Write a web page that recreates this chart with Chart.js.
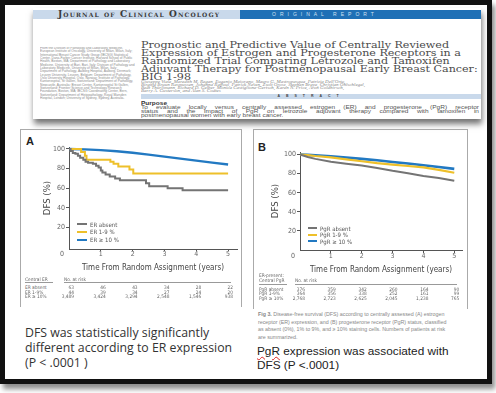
<!DOCTYPE html>
<html><head><meta charset="utf-8">
<script src="https://cdn.jsdelivr.net/npm/chart.js@4.4.0/dist/chart.umd.min.js"></script>
<style>
html,body{margin:0;padding:0;background:#fff}
body{width:496px;height:393px;position:relative;overflow:hidden;font-family:'Liberation Sans',Arial,sans-serif}
.a{position:absolute;white-space:nowrap}
#frame{left:0;top:0;width:482px;height:374px;border:5px solid #111;box-shadow:3px 5px 5px rgba(0,0,0,.45)}
#paper{left:33px;top:8px;width:448px;height:111px;background:#fff;box-shadow:1px 5px 6px rgba(0,0,0,.55);overflow:hidden}
#jbar{left:0;top:2px;width:207px;height:9px;background:#c9d9eb;font-family:'DejaVu Serif',serif;font-weight:bold;font-variant:small-caps;font-size:9px;line-height:9px;color:#3a3a3a;letter-spacing:1.1px;text-indent:25px}
#obar{left:207px;top:2px;width:241px;height:9px;background:#1f70b6;font-size:5px;line-height:9px;color:#cfe0f2;letter-spacing:4px;text-indent:32px}
#lcol{left:7px;top:39px;width:95px;height:72px;white-space:normal;font-size:3.3px;line-height:3.35px;color:#8a8a8a;overflow:hidden}
#ttl{left:108px;top:33px;font-family:'DejaVu Serif',serif;font-size:9.2px;line-height:8px;color:#4a4a4a;transform:scaleX(1.21);transform-origin:0 0}
#auth{left:108px;top:72px;font-family:'Liberation Serif',serif;font-style:italic;font-size:4.4px;line-height:3.1px;color:#888;transform:scaleX(1.14);transform-origin:0 0}
#abar{left:108px;top:86px;width:340px;height:5px;background:#c9d9eb;font-size:3.5px;line-height:5px;text-align:center;font-weight:bold;letter-spacing:6px;color:#444}
#purp{left:108px;top:92.5px;width:260px;font-size:5px;line-height:4.3px;color:#555;transform:scaleX(1.3);transform-origin:0 0}
#purp div{white-space:nowrap}
#purp .j{text-align:justify;text-align-last:justify}
.panel{border:1px solid #aaa;border-bottom:none}
.lbl{font-weight:bold;font-size:11px;color:#222}
.leg{font-family:'Liberation Sans Narrow','DejaVu Sans Condensed','Liberation Sans',sans-serif;font-size:6px;line-height:7px;color:#555}
.sw{position:absolute;height:2px}
.tb{font-family:'Liberation Sans Narrow','DejaVu Sans Condensed','Liberation Sans',sans-serif;font-size:4.8px;line-height:5px;color:#666}
.rv{position:absolute;text-align:right;width:30px;font-family:'Liberation Sans Narrow','DejaVu Sans Condensed','Liberation Sans',sans-serif;font-size:4.8px;line-height:5px;color:#666}
.hl{position:absolute;height:0;border-top:1px solid #999}
#capt{left:258px;top:311px;font-size:5.3px;line-height:7.7px;color:#888}
#ltxt{left:25px;top:325px;font-family:'Open Sans','Noto Sans',sans-serif;font-size:12.3px;line-height:15px;color:#333}
#rtxt{left:257px;top:345px;font-size:11.8px;line-height:13.5px;color:#222}
.sq{text-decoration:underline wavy #d22;text-decoration-thickness:1px;text-underline-offset:1px}
canvas{position:absolute}
</style>
</head><body>
<div id="frame" class="a"></div>
<div id="paper" class="a">
  <div id="jbar" class="a">Journal of Clinical Oncology</div>
  <div id="obar" class="a">ORIGINAL REPORT</div>
  <div id="lcol" class="a">From the Division of Pathology and Laboratory Medicine, European Institute of Oncology, University of Milan, Milan, Italy; International Breast Cancer Study Group (IBCSG) Statistical Center, Dana-Farber Cancer Institute, Harvard School of Public Health, Boston, MA; Department of Pathology and Laboratory Medicine, University of Bari, Bari, Italy; Division of Pathology and Laboratory Medicine, University of Milan, Milan, Italy; Department of Pathology, Aalborg Hospital, Aalborg, Denmark; Leuven University, Leuven, Belgium; Department of Pathology, Oslo University Hospital, Oslo, Norway; Institute of Pathology, Kantonsspital, St Gallen, Switzerland; Department of Pathology, Newcastle, Australia; Breast Center, Kantonsspital St Gallen, Switzerland; Frontier Science and Technology Research Foundation, Boston, MA; IBCSG Coordinating Center, Bern, Switzerland; Department of Histopathology, Royal Marsden Hospital, London; University of Sydney, Sydney, Australia.</div>
  <div id="ttl" class="a">Prognostic and Predictive Value of Centrally Reviewed<br>Expression of Estrogen and Progesterone Receptors in a<br>Randomized Trial Comparing Letrozole and Tamoxifen<br>Adjuvant Therapy for Postmenopausal Early Breast Cancer:<br>BIG 1-98</div>
  <div id="auth" class="a">Giuseppe Viale, Meredith M. Regan, Eugenio Maiorano, Mauro G. Mastropasqua, Patrizia Dell'Orto,<br>Birgitte Bruun Rasmussen, Johanna Raffoul, Patrick Neven, Zsolt Orosz, Stephen Braye, Christian Öhlschlegel,<br>Beat Thürlimann, Richard D. Gelber, Monica Castiglione-Gertsch, Karen N. Price, Aron Goldhirsch,<br>Barry A. Gusterson, and Alan S. Coates</div>
  <div id="abar" class="a">ABSTRACT</div>
  <div id="purp" class="a">
    <div><b style="color:#333">Purpose</b></div>
    <div class="j">To evaluate locally versus centrally assessed estrogen (ER) and progesterone (PgR) receptor</div>
    <div class="j">status and the impact of PgR on letrozole adjuvant therapy compared with tamoxifen in</div>
    <div>postmenopausal women with early breast cancer.</div>
  </div>
</div>

<div class="a panel" style="left:20px;top:129px;width:220px;height:177px"></div>
<div class="a panel" style="left:253px;top:129px;width:213px;height:179px"></div>
<div class="a lbl" style="left:26px;top:135px">A</div>
<div class="a lbl" style="left:258px;top:141px">B</div>

<canvas id="cA" width="220" height="138" style="left:20px;top:135px"></canvas>
<canvas id="cB" width="212" height="135" style="left:255px;top:140px"></canvas>

<div id="capt" class="a"><b>Fig 3.</b> Disease-free survival (DFS) according to centrally assessed (A) estrogen<br>receptor (ER) expression, and (B) progesterone receptor (PgR) status, classified<br>as absent (0%), 1% to 9%, and ≥ 10% staining cells. Numbers of patients at risk<br>are summarized.</div>
<div id="ltxt" class="a">DFS was statistically significantly<br>different according to ER expression<br>(P &lt; .0001 )</div>
<div id="rtxt" class="a"><span class="sq">PgR</span> expression was associated with<br>DFS (P &lt;.0001)</div>

<script>
// ---------- data ----------
const xTickYears = [1, 2, 3, 4, 5];
const yTickValues = [20, 40, 60, 80, 100];
const riskYears = [0, 1, 2, 3, 4, 5];

// Panel A: central ER
const erAbsentT = [0, 0.05, 0.12, 0.2, 0.28, 0.35, 0.45, 0.52, 0.6, 0.75, 0.85, 0.93, 1.0, 1.05, 1.15, 1.28, 1.45, 1.6, 2.42, 2.52, 3.1, 3.57, 5];
const erAbsentS = [100, 98, 96, 95, 93, 91, 89, 87, 86, 85, 83, 81, 78, 76, 74, 72, 70, 68, 65, 62, 60, 58, 58];
const er19T = [0, 0.38, 0.5, 0.55, 1.3, 1.4, 1.55, 1.9, 2.02, 5];
const er19S = [100, 97, 93, 89, 87, 85, 82, 79, 75, 75];
const er10T = [0, 0.5, 1, 1.5, 2, 2.5, 3, 3.5, 4, 4.5, 5];
const er10S = [100, 99.6, 98.8, 97.6, 96.1, 94.2, 92.2, 90.2, 88.1, 86.1, 84.2];

// Panel B: central PgR (ER-present)
const pgrT = [0, 0.25, 0.5, 1, 1.5, 2, 2.5, 3, 3.5, 4, 4.5, 5];
const pgrAbsentS = [100, 97.5, 95.5, 92.5, 90.5, 88.5, 86, 83, 80.5, 77.5, 75.5, 72.5];
const pgr19S = [100, 99.5, 98.5, 97, 95, 93, 91, 89.5, 88, 86.5, 84, 81];
const pgr10S = [100, 99.7, 99.3, 98.2, 97, 95.5, 94, 92.3, 90.7, 88.8, 87, 85];

// Numbers at risk
const erLabels = ['ER absent', 'ER 1-9%', 'ER ≥ 10%'];
const erAbsentRisk = [63, 46, 43, 34, 28, 22];
const er19Risk = [44, 39, 34, 27, 24, 20];
const er10Risk = [3489, 3424, 3294, 2548, 1546, 938];
const pgrLabels = ['PgR absent', 'PgR 1-9%', 'PgR ≥ 10%'];
const pgrAbsentRisk = [376, 359, 342, 260, 164, 90];
const pgr19Risk = [364, 356, 338, 252, 161, 99];
const pgr10Risk = [2768, 2723, 2625, 2045, 1238, 765];

const legendA = ['ER absent', 'ER 1-9 %', 'ER ≥ 10 %'];
const legendB = ['PgR absent', 'PgR 1-9 %', 'PgR ≥ 10 %'];

// ---------- styling ----------
const GRAY = '#747474', GOLD = '#eec02a', BLUE = '#2279c2';
const NARROW = "'Liberation Sans Narrow','DejaVu Sans Condensed','Liberation Sans',sans-serif";
const pts = (T, S) => T.map((t, i) => ({x: t, y: S[i]}));

const originLabel = {
  id: 'originLabel',
  afterDraw(chart, args, opts) {
    const {ctx, scales: {x, y}} = chart;
    ctx.save();
    ctx.font = '7px ' + NARROW;
    ctx.fillStyle = '#666';
    ctx.textAlign = 'center';
    ctx.textBaseline = 'middle';
    ctx.fillText('0', x.getPixelForValue(0) - 7, y.bottom + opts.dy);
    ctx.restore();
  }
};

function makeKM(id, series, o) {
  return new Chart(document.getElementById(id), {
    type: 'line',
    data: {datasets: series.map(s => ({
      data: s.data, borderColor: s.color, borderWidth: s.width, stepped: s.stepped,
      pointRadius: 0, fill: false, tension: 0
    }))},
    options: {
      responsive: false, animation: false, events: [],
      layout: {padding: {top: o.padTop, right: o.padRight, left: 0, bottom: 0}},
      plugins: {legend: {display: false}, tooltip: {enabled: false}, originLabel: {dy: o.zeroDy}},
      scales: {
        x: {
          type: 'linear', min: 0, max: o.xMax,
          afterBuildTicks: s => { s.ticks = xTickYears.map(v => ({value: v})); },
          afterFit: s => { s.height = o.xH; },
          border: {display: true, color: '#555', width: 1},
          grid: {display: true, drawOnChartArea: false, drawTicks: true, tickLength: o.xTick, color: '#555'},
          ticks: {font: {family: NARROW, size: 7, lineHeight: 1}, color: '#666', padding: 0, maxRotation: 0},
          title: {display: true, text: 'Time From Random Assignment (years)', color: '#444',
                  font: {family: NARROW, size: 8}, padding: 0}
        },
        y: {
          type: 'linear', min: o.yMin, max: o.yMax,
          afterBuildTicks: s => { s.ticks = yTickValues.map(v => ({value: v})); },
          afterFit: s => { s.width = o.yW; },
          border: {display: true, color: '#555', width: 1},
          grid: {display: true, drawOnChartArea: false, drawTicks: true, tickLength: 3, color: '#555'},
          ticks: {font: {family: NARROW, size: 7}, color: '#666', padding: 1},
          title: {display: true, text: 'DFS (%)', color: '#444', font: {family: NARROW, size: 9.5},
                  padding: {top: o.yTitlePad, bottom: 0}}
        }
      }
    },
    plugins: [originLabel]
  });
}

const chartA = makeKM('cA', [
  {data: pts(erAbsentT, erAbsentS), color: GRAY, width: 2, stepped: true},
  {data: pts(er19T, er19S), color: GOLD, width: 2, stepped: true},
  {data: pts(er10T, er10S), color: BLUE, width: 2.4, stepped: false}
], {padTop: 12, padRight: 3, xMax: 5.28, yMin: -2, yMax: 102, xH: 24, yW: 49, xTick: 2, zeroDy: 5, yTitlePad: 22});

const chartB = makeKM('cB', [
  {data: pts(pgrT, pgrAbsentS), color: GRAY, width: 2, stepped: false},
  {data: pts(pgrT, pgr19S), color: GOLD, width: 2.2, stepped: false},
  {data: pts(pgrT, pgr10S), color: BLUE, width: 2.6, stepped: false}
], {padTop: 12, padRight: 5, xMax: 5.25, yMin: 0, yMax: 102.7, xH: 25, yW: 45, xTick: 3, zeroDy: 6.5, yTitlePad: 15});

// ---------- legends & at-risk tables (HTML text) ----------
function el(cls, left, top, text, extra) {
  const d = document.createElement('div');
  d.className = cls; d.style.left = left + 'px'; d.style.top = top + 'px';
  if (text !== null) d.textContent = text;
  if (extra) Object.assign(d.style, extra);
  document.body.appendChild(d); return d;
}
function legend(labels, colors, x0, y0, dy, swW) {
  labels.forEach((t, i) => {
    el('sw', x0, y0 + i * dy - 1, null, {width: swW + 'px', background: colors[i]});
    el('a leg', x0 + swW + 3, y0 + i * dy - 3.5, t);
  });
}
legend(legendA, [GRAY, GOLD, BLUE], 77, 224, 7.8, 10);
legend(legendB, [GRAY, GOLD, BLUE], 308, 228, 6.7, 9);

function riskTable(chart, canvasLeft, labels, rows, labelX, rowY, rowDy) {
  const xs = riskYears.map(t => canvasLeft + chart.scales.x.getPixelForValue(t));
  rows.forEach((vals, r) => {
    el('a tb', labelX, rowY + r * rowDy - 2.5, labels[r]);
    vals.forEach((v, i) => el('rv', xs[i] + 5 - 30, rowY + r * rowDy - 2.5, v.toLocaleString('en-US')));
  });
  return xs;
}
const xsA = riskTable(chartA, 20, erLabels, [erAbsentRisk, er19Risk, er10Risk], 25, 287.5, 4.5);
el('a tb', 25, 277, 'Central ER');
el('a tb', xsA[0] - 5, 277, 'No. at risk');
el('hl', 25, 282, null, {width: '28px'});
el('hl', xsA[0] - 5, 282, null, {width: (xsA[5] + 8 - xsA[0]) + 'px'});

const xsB = riskTable(chartB, 255, pgrLabels, [pgrAbsentRisk, pgr19Risk, pgr10Risk], 259, 289, 4.5);
el('a tb', 259, 273, 'ER-present:');
el('a tb', 259, 278, 'Central PgR');
el('a tb', xsB[0] - 5, 278, 'No. at risk');
el('hl', 259, 283.5, null, {width: '28px'});
el('hl', xsB[0] - 5, 283.5, null, {width: (xsB[5] + 8 - xsB[0]) + 'px'});
</script>
</body></html>
